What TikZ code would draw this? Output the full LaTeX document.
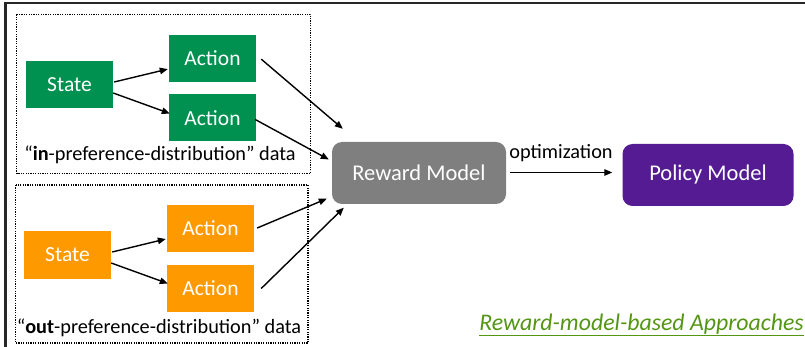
\documentclass[tikz,border=0pt]{standalone}
\usepackage{fontspec}
\setmainfont{Carlito}
\usetikzlibrary{arrows.meta,calc}
\definecolor{sgreen}{HTML}{009150}
\definecolor{sorange}{HTML}{FF9900}
\definecolor{rmgray}{HTML}{7F7F7F}
\definecolor{ppurple}{HTML}{541B92}
\definecolor{tgreen}{RGB}{84,150,20}
\tikzset{
  box/.style={inner sep=0pt, text=white, font=\fontsize{21.5}{24}\selectfont},
  gbox/.style={box, fill=sgreen, minimum width=87pt, minimum height=47pt},
  obox/.style={box, fill=sorange, minimum width=87pt, minimum height=47pt},
  model/.style={box, rounded corners=10pt, minimum width=174pt, minimum height=62pt, font=\fontsize{22.5}{26}\selectfont},
  group/.style={draw=black, line width=1.2pt, dash pattern=on 1.2pt off 1.2pt},
  arr/.style={-{Triangle[length=8pt,width=6.5pt]}, line width=1.4pt, black},
  frame/.style={line width=2.5pt, black!85},
  lbl/.style={inner sep=0pt, font=\fontsize{20.3}{24}\selectfont}
}
\begin{document}
\begin{tikzpicture}[x=1pt,y=-1pt]
\useasboundingbox (0,0) rectangle (805,347);
% frame
\draw[frame] (805,3) -- (5.5,3) -- (5.5,347);
% groups
\draw[group] (16.5,14.5) rectangle (310.5,173.5);
\draw[group] (15.5,185) rectangle (308,343);
% nodes
\node[gbox] (s1) at (69.5,85) {State};
\node[gbox] (a1) at (212.5,58.6) {Action};
\node[gbox] (a2) at (212.5,118) {Action};
\node[obox] (s2) at (67.5,255) {State};
\node[obox] (a3) at (210.5,228.5) {Action};
\node[obox] (a4) at (210.5,288) {Action};
\node[lbl] (l1) at (160,155) {“\textbf{in}-preference-distribution” data};
\node[lbl] (l2) at (159,328) {“\textbf{out}-preference-distribution” data};
\node[model, fill=rmgray] (rm) at (419,173) {Reward Model};
\node[model, fill=ppurple, minimum width=171pt] (pm) at (708,175) {Policy Model};
\coordinate (optstart) at ($(rm.east)+(4,-0.5)$);
\coordinate (optend) at ($(pm.west)+(-10,-2.5)$);
\node[lbl] (opt) at (561,153) {optimization};
\node[inner sep=0pt, text=tgreen, font=\fontsize{23.8}{27}\selectfont\itshape] (title) at (641.5,325) {\underline{Reward-model-based Approaches}};
% arrows
\draw[arr] ($(s1.east)+(1,-3)$) -- ($(a1.west)+(-1,10.5)$);
\draw[arr] ($(s1.east)+(0,8)$) -- ($(a2.west)+(1,-4.5)$);
\draw[arr] ($(s2.east)+(1,-3)$) -- ($(a3.west)+(-1,10.5)$);
\draw[arr] ($(s2.east)+(0,8)$) -- ($(a4.west)+(1,-4.5)$);
\draw[arr] ($(a1.east)+(5,0.5)$) -- ($(rm.north west)+(11,-13)$);
\draw[arr] ($(a2.east)+(-1,1.5)$) -- ($(rm.west)+(-3,-13.5)$);
\draw[arr] ($(a3.east)+(3,-0.5)$) -- ($(rm.south west)+(-5,-5.5)$);
\draw[arr] ($(a4.east)+(7,0.5)$) -- ($(rm.south west)+(12,3.5)$);
\draw[arr, line width=1.2pt] (optstart) -- (optend);
\end{tikzpicture}
\end{document}
